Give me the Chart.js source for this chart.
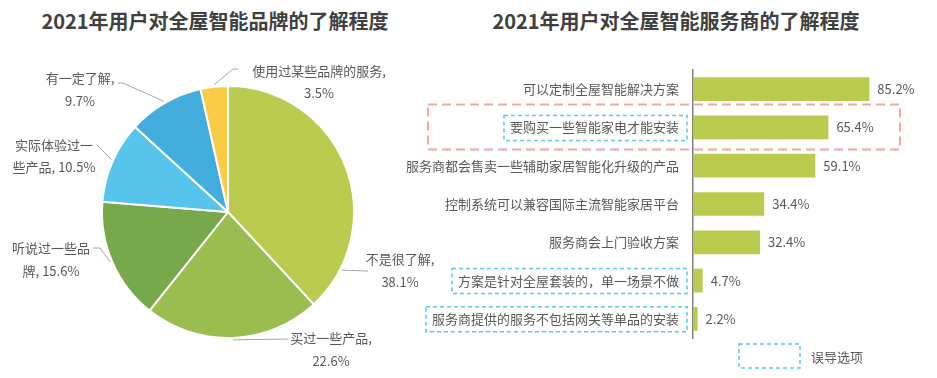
<!DOCTYPE html>
<html><head><meta charset="utf-8">
<script src="https://cdn.jsdelivr.net/npm/chart.js@4/dist/chart.umd.min.js"></script>
<style>
html,body{margin:0;padding:0;background:#fff;width:937px;height:378px;overflow:hidden;font-family:"Noto Sans CJK SC",sans-serif}
.title{position:absolute;top:9px;line-height:24px;font-size:20px;font-weight:bold;color:#404040;white-space:nowrap;transform:translateX(-50%)}
#pieBox{position:absolute;left:0;top:0;width:470px;height:378px}
#barBox{position:absolute;left:400px;top:0;width:537px;height:378px}
</style></head>
<body>
<div class="title" id="t1" style="left:215px"></div>
<div class="title" id="t2" style="left:676px"></div>
<div id="pieBox"><canvas id="pie"></canvas></div>
<div id="barBox"><canvas id="bar"></canvas></div>
<script>
// ---- data ----
const pieTitle = '2021年用户对全屋智能品牌的了解程度';
const pieLabels = ['不是很了解', '买过一些产品', '听说过一些品牌', '实际体验过一些产品', '有一定了解', '使用过某些品牌的服务'];
const pieValues = [38.1, 22.6, 15.6, 10.5, 9.7, 3.5];
const pieColors = ['#BBCB4F', '#9BBD50', '#77A84C', '#57C4EB', '#43ADDE', '#F9CB47'];

const barTitle = '2021年用户对全屋智能服务商的了解程度';
const barCategories = ['可以定制全屋智能解决方案', '要购买一些智能家电才能安装', '服务商都会售卖一些辅助家居智能化升级的产品', '控制系统可以兼容国际主流智能家居平台', '服务商会上门验收方案', '方案是针对全屋套装的，单一场景不做', '服务商提供的服务不包括网关等单品的安装'];
const barValues = [85.2, 65.4, 59.1, 34.4, 32.4, 4.7, 2.2];
const misleadingFlags = [false, true, false, false, false, true, true];
const highlightedRow = 1;
const legendText = '误导选项';

document.getElementById('t1').textContent = pieTitle;
document.getElementById('t2').textContent = barTitle;

const FONT = '"Noto Sans CJK SC", sans-serif';
const TXT = '#595959';

// ---- pie label layout (positions relative to pie centre) ----
// split: index where the label text wraps; 'nl' = value on its own line
const pieLabelLayout = [
  {ang: 27,    path: [[140, 59]],              tx: 172,  ty: [47, 70],    split: 'nl'},
  {ang: 87.7,  path: [[60, 127]],              tx: 103,  ty: [126, 149],  split: 'nl'},
  {ang: 157,   path: [[-128, 36], [-135, 36]], tx: -177, ty: [36, 59],    split: 6},
  {ang: 204.2, path: [[-131, -67]],            tx: -174, ty: [-67, -45],  split: 6},
  {ang: 239.9, path: [[-105, -129], [-110, -129]], tx: -148, ty: [-134, -111], split: 'nl'},
  {ang: 263.8, path: [[5, -143], [10, -143]],  tx: 91,   ty: [-141, -119], split: 'nl'}
];

const pieLabelPlugin = {
  id: 'pieLabels',
  afterDatasetsDraw(chart) {
    const ctx = chart.ctx;
    const meta = chart.getDatasetMeta(0);
    ctx.save();
    meta.data.forEach((arc, i) => {
      const L = pieLabelLayout[i];
      const cx = arc.x, cy = arc.y, r = arc.outerRadius + 2;
      const a = L.ang * Math.PI / 180;
      ctx.beginPath();
      ctx.strokeStyle = '#A6A6A6';
      ctx.lineWidth = 1;
      ctx.moveTo(cx + Math.cos(a) * r, cy + Math.sin(a) * r);
      L.path.forEach(p => ctx.lineTo(cx + p[0], cy + p[1]));
      ctx.stroke();
      const val = pieValues[i] + '%';
      const name = pieLabels[i];
      let lines;
      if (L.split === 'nl') lines = [name + ',', val];
      else lines = [name.slice(0, L.split), name.slice(L.split) + ', ' + val];
      ctx.fillStyle = TXT;
      ctx.font = '13px ' + FONT;
      ctx.textAlign = 'center';
      ctx.textBaseline = 'middle';
      lines.forEach((t, k) => ctx.fillText(t, cx + L.tx, cy + L.ty[k]));
    });
    ctx.restore();
  }
};

new Chart(document.getElementById('pie'), {
  type: 'pie',
  data: {
    labels: pieLabels,
    datasets: [{data: pieValues, backgroundColor: pieColors, borderColor: '#ffffff', borderWidth: 2}]
  },
  options: {
    responsive: true,
    maintainAspectRatio: false,
    animation: false,
    layout: {padding: {left: 101, right: 115, top: 85, bottom: 39}},
    plugins: {legend: {display: false}, tooltip: {enabled: false}, title: {display: false}}
  },
  plugins: [pieLabelPlugin]
});

// ---- bar chart ----
const barExtrasPlugin = {
  id: 'barExtras',
  afterDraw(chart) {
    const ctx = chart.ctx;
    const ca = chart.chartArea;
    const ys = chart.scales.y;
    const meta = chart.getDatasetMeta(0);
    ctx.save();
    // value labels
    ctx.font = '13px ' + FONT;
    ctx.fillStyle = TXT;
    ctx.textAlign = 'left';
    ctx.textBaseline = 'middle';
    meta.data.forEach((bar, i) => {
      ctx.fillText(barValues[i].toFixed(1) + '%', bar.x + 8, bar.y);
    });
    // highlighted row (pink dashed)
    const hy = ys.getPixelForValue(highlightedRow);
    ctx.setLineDash([9, 5]);
    ctx.strokeStyle = '#F2A7A7';
    ctx.lineWidth = 2;
    ctx.strokeRect(ca.left - 265, hy - 23, ca.right - (ca.left - 265), 45);
    // misleading boxes (blue dashed)
    ctx.setLineDash([4, 3]);
    ctx.strokeStyle = '#5CC8EA';
    ctx.lineWidth = 1.5;
    const labelRight = ca.left - 14;
    barCategories.forEach((c, i) => {
      if (!misleadingFlags[i]) return;
      const y = ys.getPixelForValue(i);
      const w = ctx.measureText(c).width;
      const x0 = labelRight - w - 6;
      ctx.strokeRect(x0, y - 12, (ca.left - 6) - x0, 25);
    });
    // legend
    ctx.strokeRect(ca.left + 46, ca.bottom + 6, 61, 24);
    ctx.setLineDash([]);
    ctx.fillStyle = TXT;
    ctx.fillText(legendText, ca.left + 118, ca.bottom + 19);
    ctx.restore();
  }
};

new Chart(document.getElementById('bar'), {
  type: 'bar',
  data: {
    labels: barCategories,
    datasets: [{data: barValues, backgroundColor: '#BBCB4F', barPercentage: 0.62, categoryPercentage: 1}]
  },
  options: {
    indexAxis: 'y',
    responsive: true,
    maintainAspectRatio: false,
    animation: false,
    layout: {padding: {left: 0, right: 37, top: 70, bottom: 40}},
    scales: {
      x: {display: false, min: 0, max: 100},
      y: {
        afterFit(scale) { scale.width = 293; },
        grid: {display: false, drawTicks: false},
        border: {display: true, color: '#808080', width: 1.5},
        ticks: {color: TXT, font: {family: FONT, size: 13}, padding: 14}
      }
    },
    plugins: {legend: {display: false}, tooltip: {enabled: false}, title: {display: false}}
  },
  plugins: [barExtrasPlugin]
});
</script>
</body></html>
